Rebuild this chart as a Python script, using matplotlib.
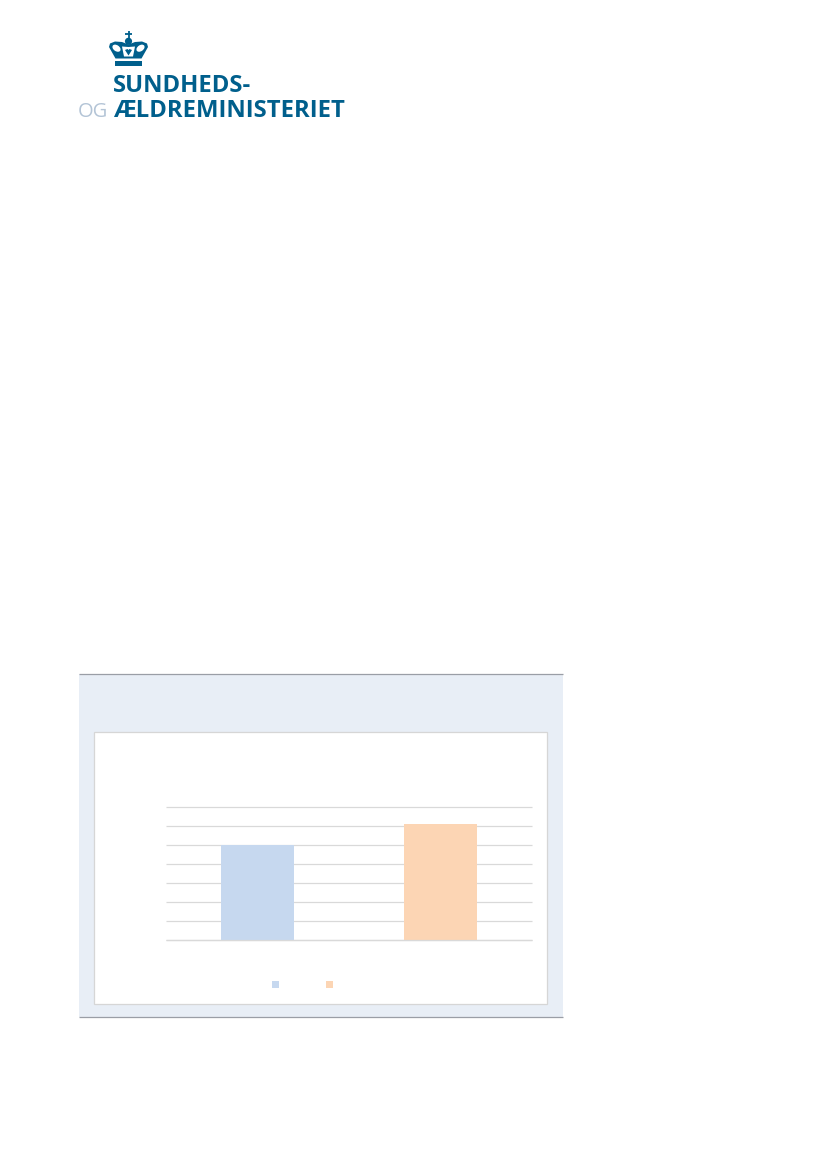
import matplotlib
matplotlib.use("Agg")
import matplotlib.pyplot as plt
from matplotlib.patches import Rectangle, Circle, Polygon, Ellipse
from matplotlib.lines import Line2D

plt.rcParams["lines.solid_capstyle"] = "butt"

# --- data ---
categories = ["A", "B"]
series_names = ["A", "B"]
values = [5.0, 6.14]
bar_colors = ["#C6D8EF", "#FCD5B4"]
y_ticks = [0, 1, 2, 3, 4, 5, 6, 7]

W, H = 827, 1169
BLUE = "#005F8C"
fig = plt.figure(figsize=(W / 100, H / 100), dpi=100, facecolor="white")

# page layer in pixel coordinates
page = fig.add_axes([0, 0, 1, 1], zorder=0)
page.set_xlim(0, W)
page.set_ylim(H, 0)
page.axis("off")

# panel
page.add_patch(Rectangle((78.5, 674), 484.5, 343, fc="#E8EEF6", ec="none"))
page.add_line(Line2D([78.5, 563], [674, 674], color="#9A9EA6", lw=0.9))
page.add_line(Line2D([78.5, 563], [1017, 1017], color="#9A9EA6", lw=0.9))
page.add_patch(Rectangle((94, 732), 453, 272, fc="white", ec="#D6D6D6", lw=0.9))

# logo text
logo = dict(color=BLUE, family="Open Sans", fontweight="bold", va="baseline", ha="left")
page.text(113, 92, "SUNDHEDS-", fontsize=17.2, **logo)
page.text(113, 116.7, "ÆLDREMINISTERIET", fontsize=17.2, **logo)
page.text(78, 116.7, "OG", color="#B3C4D6", fontsize=14.5, family="Open Sans",
          va="baseline", ha="left")

# crown
page.add_patch(Rectangle((115, 60.5), 27, 5.5, fc=BLUE, ec="none"))
page.add_patch(Polygon([(115.5, 58.5), (109, 47), (110, 43.5), (115, 41.5), (122, 42),
                        (128.5, 44.5), (135, 42), (142, 41.5), (147, 43.5), (148, 47),
                        (141.5, 58.5)], fc=BLUE, ec="none"))
page.add_patch(Ellipse((116.5, 48.2), 9, 6, angle=35, fc="white", ec="none"))
page.add_patch(Ellipse((140.5, 48.2), 9, 6, angle=-35, fc="white", ec="none"))
page.add_patch(Polygon([(122, 46.5), (128.5, 47), (135, 46.5), (133, 56.5), (124, 56.5)],
                       fc="white", ec="none"))
page.add_patch(Polygon([(125, 50), (127.5, 49), (128.5, 50), (129.5, 49), (132, 50),
                        (128.5, 55.5)], fc=BLUE, ec="none"))
page.add_patch(Circle((128.5, 41.3), 3.6, fc=BLUE, ec="none"))
page.add_line(Line2D([128.5, 128.5], [31, 38], color=BLUE, lw=1.3))
page.add_line(Line2D([125, 132], [34, 34], color=BLUE, lw=1.3))

# chart
ax = fig.add_axes([166 / W, 1 - 940.45 / H, 365.5 / W, 133 / H], zorder=1)
ax.patch.set_alpha(0)
ax.set_xlim(-0.5, 1.5)
ax.set_ylim(y_ticks[0], y_ticks[-1])
ax.set_yticks(y_ticks)
ax.set_xticks([])
ax.tick_params(left=False, labelleft=False)
ax.grid(axis="y", color="#D9D9D9", lw=0.9, zorder=1, clip_on=False)
ax.set_axisbelow(True)
for s in ax.spines.values():
    s.set_visible(False)
for i, (v, c) in enumerate(zip(values, bar_colors)):
    ax.bar(i, v, width=0.4, color=c, zorder=2)
ax.axhline(y_ticks[0], color="#D9D9D9", lw=0.9, zorder=3, clip_on=False)

# legend swatches
for x, c in zip([272, 326], bar_colors):
    page.add_patch(Rectangle((x, 981), 7, 7, fc=c, ec="none"))

fig.savefig("out.png", dpi=100)
